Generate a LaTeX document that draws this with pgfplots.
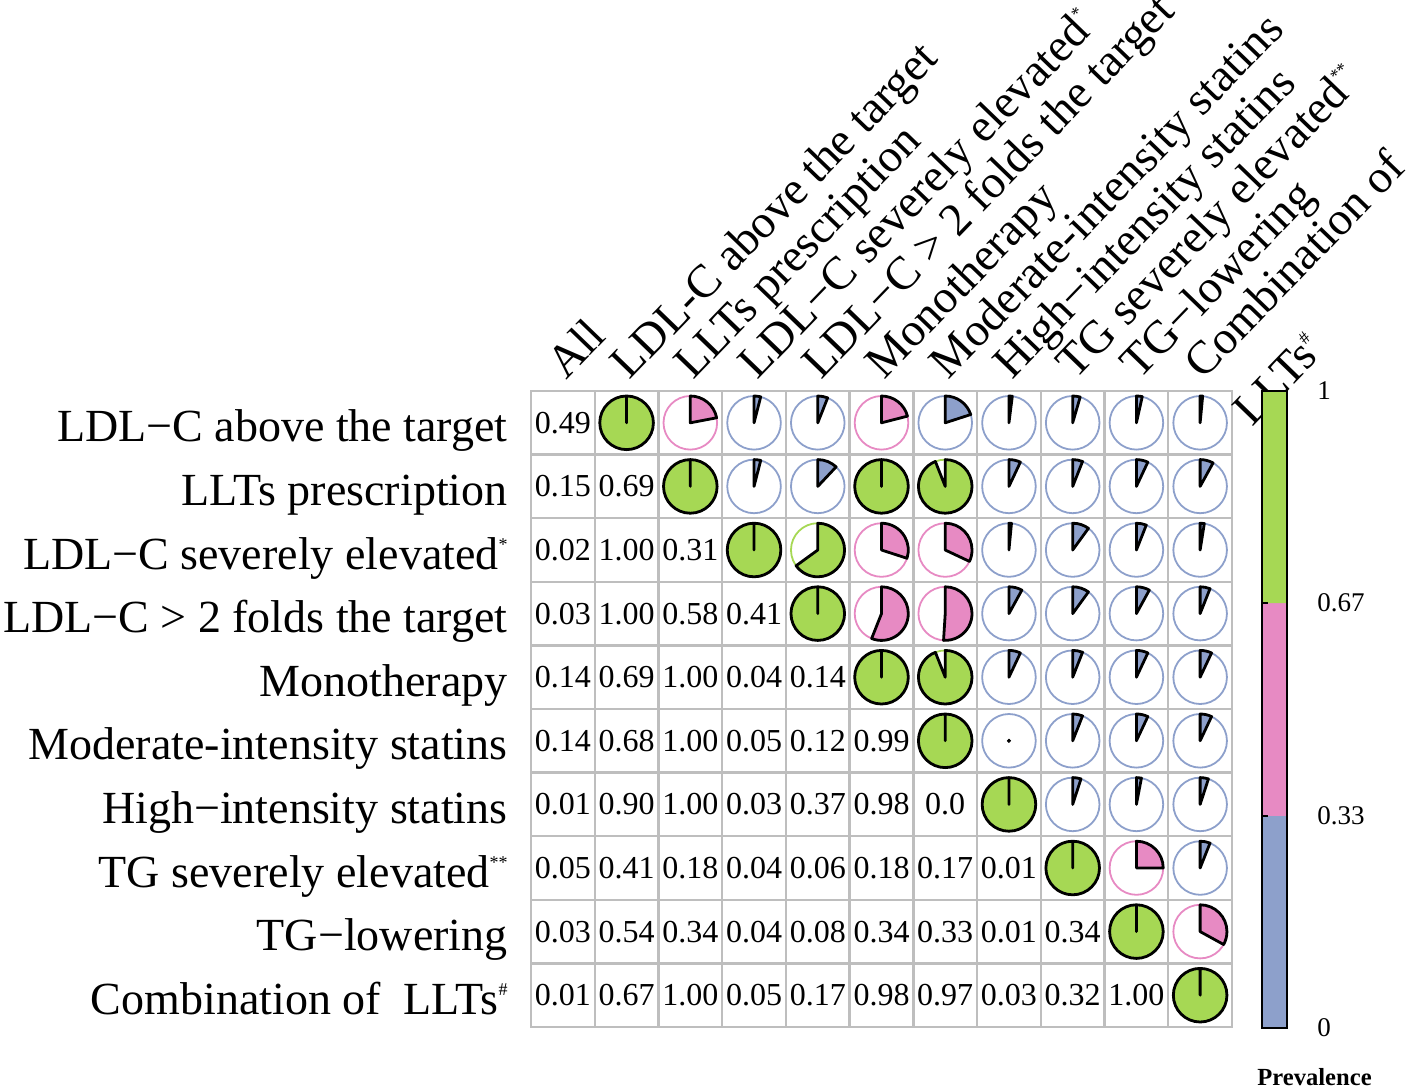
\documentclass[border=0pt]{standalone}
\usepackage{pgfplots}
\pgfplotsset{compat=1.18}
\usepackage{pgfplotstable}
\usepackage{fontspec}
\setmainfont{Liberation Serif}

% colours (Set2-like)
\definecolor{cblue}{RGB}{141,160,203}
\definecolor{cpink}{RGB}{231,138,195}
\definecolor{cgreen}{RGB}{166,216,84}
\definecolor{cgrid}{RGB}{190,190,190}

\newcommand{\sups}[1]{\raisebox{0.9ex}{\fontsize{9pt}{9pt}\selectfont #1}}
\pgfdeclareplotmark{nothing}{}
\def\pieR{13.4pt}

% lower triangle: x = column, y = row, t = printed value
\pgfplotstableread{
x y t
0 0 0.49
0 1 0.15
1 1 0.69
0 2 0.02
1 2 1.00
2 2 0.31
0 3 0.03
1 3 1.00
2 3 0.58
3 3 0.41
0 4 0.14
1 4 0.69
2 4 1.00
3 4 0.04
4 4 0.14
0 5 0.14
1 5 0.68
2 5 1.00
3 5 0.05
4 5 0.12
5 5 0.99
0 6 0.01
1 6 0.90
2 6 1.00
3 6 0.03
4 6 0.37
5 6 0.98
6 6 0.0
0 7 0.05
1 7 0.41
2 7 0.18
3 7 0.04
4 7 0.06
5 7 0.18
6 7 0.17
7 7 0.01
0 8 0.03
1 8 0.54
2 8 0.34
3 8 0.04
4 8 0.08
5 8 0.34
6 8 0.33
7 8 0.01
8 8 0.34
0 9 0.01
1 9 0.67
2 9 1.00
3 9 0.05
4 9 0.17
5 9 0.98
6 9 0.97
7 9 0.03
8 9 0.32
9 9 1.00
}\lowtab

% diagonal and upper triangle: pie fraction f, colour class c (0 blue, 1 pink, 2 green)
\pgfplotstableread{
x y f c
1 0 1.00 2
2 0 0.22 1
3 0 0.04 0
4 0 0.06 0
5 0 0.21 1
6 0 0.20 0
7 0 0.02 0
8 0 0.045 0
9 0 0.035 0
10 0 0.015 0
2 1 1.00 2
3 1 0.04 0
4 1 0.12 0
5 1 1.00 2
6 1 0.94 2
7 1 0.07 0
8 1 0.06 0
9 1 0.07 0
10 1 0.08 0
3 2 1.00 2
4 2 0.65 2
5 2 0.30 1
6 2 0.32 1
7 2 0.015 0
8 2 0.10 0
9 2 0.06 0
10 2 0.025 0
4 3 1.00 2
5 3 0.56 1
6 3 0.51 1
7 3 0.08 0
8 3 0.10 0
9 3 0.08 0
10 3 0.06 0
5 4 1.00 2
6 4 0.94 2
7 4 0.07 0
8 4 0.06 0
9 4 0.07 0
10 4 0.07 0
6 5 1.00 2
7 5 0.0 0
8 5 0.06 0
9 5 0.07 0
10 5 0.07 0
7 6 1.00 2
8 6 0.05 0
9 6 0.03 0
10 6 0.05 0
8 7 1.00 2
9 7 0.25 1
10 7 0.06 0
9 8 1.00 2
10 8 0.33 1
10 9 1.00 2
}\pietab

\begin{document}
\begin{tikzpicture}
\useasboundingbox (0,0) rectangle (708.5pt,545.5pt);

\begin{axis}[
    at={(265.5pt,32pt)}, anchor=south west,
    width=350.5pt, height=318pt, scale only axis,
    xmin=-0.5, xmax=10.5, ymin=-0.5, ymax=9.5,
    y dir=reverse, clip=false,
    xtick={0,...,10}, ytick={0,...,9},
    minor xtick={0.5,1.5,...,9.5}, minor ytick={0.5,1.5,...,8.5},
    xminorgrids, yminorgrids,
    minor grid style={cgrid, line width=1.2pt},
    axis line style={cgrid, line width=1.2pt},
    major tick length=0pt, minor tick length=0pt,
    xticklabel pos=right,
    xticklabels={All, LDL-C above the target, LLTs prescription,
      LDL−C severely elevated\sups{*}, LDL−C > 2 folds the target,
      Monotherapy, Moderate-intensity statins, High−intensity statins,
      TG severely elevated\sups{**}, TG−lowering, Combination of},
    xticklabel style={font=\fontsize{23.3pt}{25pt}\selectfont, inner sep=0pt,
      xshift=1.5pt, yshift=5pt, rotate=46, anchor=base west},
    yticklabels={LDL−C above the target, LLTs prescription,
      LDL−C severely elevated\sups{*}, LDL−C > 2 folds the target,
      Monotherapy, Moderate-intensity statins, High−intensity statins,
      TG severely elevated\sups{**}, TG−lowering, Combination of\ \ LLTs\sups{\#}},
    yticklabel style={font=\fontsize{23pt}{25pt}\selectfont, inner sep=0pt,
      anchor=base east, xshift=-11.5pt, yshift=-9.5pt},
  ]

  % printed values
  \addplot[only marks, mark=nothing, point meta=explicit symbolic,
    nodes near coords,
    every node near coord/.style={anchor=center, inner sep=0pt,
      font=\fontsize{16pt}{18pt}\selectfont}]
    table[x=x, y=y, meta=t] {\lowtab};

  % pies
  \addplot[scatter, only marks, mark=nothing,
    visualization depends on={\thisrow{f}\as\pief},
    visualization depends on={\thisrow{c}\as\pcat},
    scatter/@pre marker code/.code={%
      \ifdim\pcat pt<0.5pt \def\piecol{cblue}\else
        \ifdim\pcat pt<1.5pt \def\piecol{cpink}\else \def\piecol{cgreen}\fi\fi
      \pgfmathsetmacro\pieend{90-360*\pief}%
      \draw[\piecol, line width=0.9pt] (0pt,0pt) circle[radius=\pieR];
      \ifdim\pieend pt<89.6pt
        \filldraw[fill=\piecol, draw=black, line width=1.4pt, line join=round]
          (0pt,0pt) -- (90:\pieR) arc[start angle=90, end angle=\pieend, radius=\pieR] -- cycle;
      \else
        \fill[black] (0pt,0pt) circle[radius=0.8pt];
      \fi},
    scatter/@post marker code/.code={}]
    table[x=x, y=y] {\pietab};

  % second line of the last column label
  \node[font=\fontsize{23.3pt}{25pt}\selectfont, inner sep=0pt, xshift=26pt, yshift=-18.5pt,
    rotate=46, anchor=base west] at (axis cs:10,-0.5) {LLTs\sups{\#}};
\end{axis}

% colour bar
\begin{axis}[
    at={(631pt,31.5pt)}, anchor=south west,
    width=12.5pt, height=318.5pt, scale only axis,
    xmin=0, xmax=1, ymin=0, ymax=1,
    xtick=\empty,
    ytick={0,0.333,0.667,1}, yticklabels={0,0.33,0.67,1},
    ytick pos=left, yticklabel pos=right,
    major tick length=3pt,
    tick style={black, line width=1pt},
    yticklabel style={font=\fontsize{13.5pt}{15pt}\selectfont, anchor=west,
      inner sep=0pt, xshift=15pt},
    axis line style={black, line width=0.9pt},
    axis on top,
    xlabel={\textbf{Prevalence}},
    xlabel style={at={(axis description cs:2.1,0)}, anchor=center,
      yshift=-24.5pt, font=\fontsize{12.3pt}{14pt}\selectfont},
  ]
  \addplot[draw=none, fill=cblue] coordinates {(0,0) (1,0) (1,0.333) (0,0.333) (0,0)};
  \addplot[draw=none, fill=cpink] coordinates {(0,0.333) (1,0.333) (1,0.667) (0,0.667) (0,0.333)};
  \addplot[draw=none, fill=cgreen] coordinates {(0,0.667) (1,0.667) (1,1) (0,1) (0,0.667)};
\end{axis}
\end{tikzpicture}
\end{document}
